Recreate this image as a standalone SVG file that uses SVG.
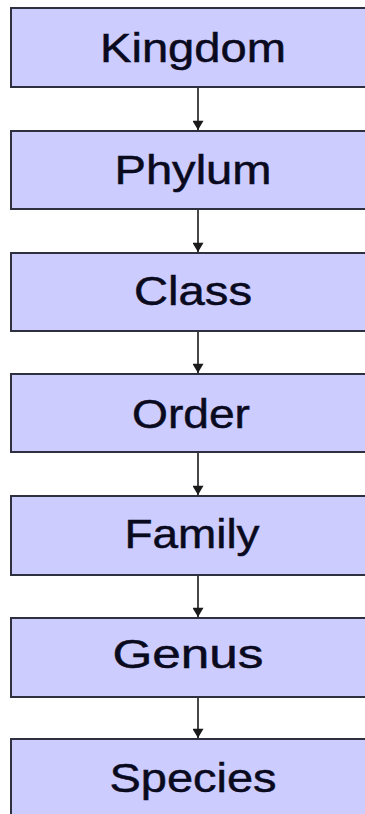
<svg xmlns="http://www.w3.org/2000/svg" width="365" height="814" viewBox="0 0 365 814">
<defs>
<style>
.box{fill:#ccccff;stroke:#2e3040;stroke-width:2}
.lbl{font-family:"Liberation Sans",Arial,sans-serif;font-size:40px;fill:#0a0a1e;stroke:#0a0a1e;stroke-width:0.5;text-anchor:middle}
.edge{stroke:#1a1a1a;stroke-width:1.6;fill:none}
</style>
<marker id="ah" viewBox="0 0 10 12" refX="10" refY="6" markerWidth="12" markerHeight="11" markerUnits="userSpaceOnUse" orient="auto">
<path d="M0,0 L10,6 L0,12 Z" fill="#1a1a1a"/>
</marker>
</defs>
<rect width="365" height="814" fill="#ffffff"/>
<g id="connectors">
<line class="edge" x1="198" y1="88" x2="198" y2="130" marker-end="url(#ah)"/>
<line class="edge" x1="198" y1="210" x2="198" y2="252" marker-end="url(#ah)"/>
<line class="edge" x1="198" y1="332" x2="198" y2="373" marker-end="url(#ah)"/>
<line class="edge" x1="198" y1="453" x2="198" y2="495" marker-end="url(#ah)"/>
<line class="edge" x1="198" y1="576" x2="198" y2="617" marker-end="url(#ah)"/>
<line class="edge" x1="198" y1="698" x2="198" y2="738" marker-end="url(#ah)"/>
</g>
<g id="kingdom"><rect class="box" x="11" y="8" width="362" height="79"/><text class="lbl" x="193" y="62" textLength="186" lengthAdjust="spacingAndGlyphs">Kingdom</text></g>
<g id="phylum"><rect class="box" x="11" y="131" width="362" height="78"/><text class="lbl" x="193" y="184" textLength="157" lengthAdjust="spacingAndGlyphs">Phylum</text></g>
<g id="class"><rect class="box" x="11" y="253" width="362" height="78"/><text class="lbl" x="193" y="305" textLength="118" lengthAdjust="spacingAndGlyphs">Class</text></g>
<g id="order"><rect class="box" x="11" y="374" width="362" height="78"/><text class="lbl" x="191" y="428" textLength="118" lengthAdjust="spacingAndGlyphs">Order</text></g>
<g id="family"><rect class="box" x="11" y="496" width="362" height="79"/><text class="lbl" x="192" y="548" textLength="135" lengthAdjust="spacingAndGlyphs">Family</text></g>
<g id="genus"><rect class="box" x="11" y="618" width="362" height="79"/><text class="lbl" x="188" y="668" textLength="151" lengthAdjust="spacingAndGlyphs">Genus</text></g>
<g id="species"><rect class="box" x="11" y="739" width="362" height="90"/><text class="lbl" x="193" y="792" textLength="167" lengthAdjust="spacingAndGlyphs">Species</text></g>
</svg>
